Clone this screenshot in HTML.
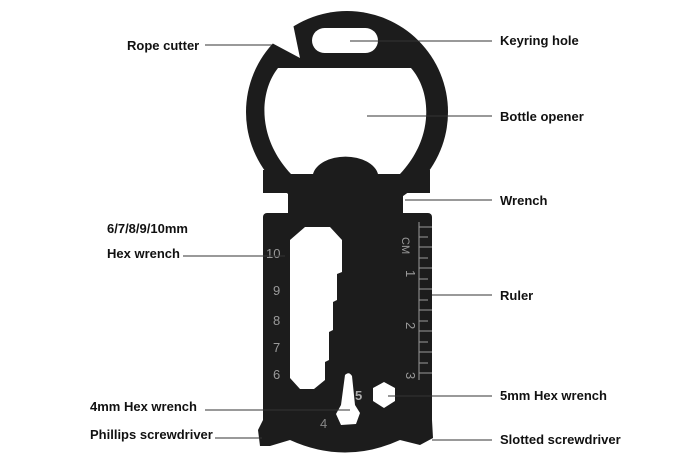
<!DOCTYPE html>
<html><head><meta charset="utf-8"><style>
html,body{margin:0;padding:0;background:#fff;}
svg{display:block}
text{font-family:"Liberation Sans",sans-serif;}
.l{font-size:13px;font-weight:bold;fill:#111}
</style></head><body>
<svg width="700" height="467" viewBox="0 0 700 467">
<defs>
<mask id="m">
<rect width="700" height="467" fill="#fff"/>
<path d="M278,68 L411,68 C432,92 434,138 400,174 L378,174 A33,21 0 0 0 313,174 L291,174 C257,138 259,92 278,68 Z" fill="#000"/>
<rect x="312" y="28" width="66" height="25" rx="12.5" fill="#000"/>
<path d="M270,42 L293,24 L300,58 Z" fill="#000"/>
<path d="M290,240 L305,227 L330,227 L342,240 L342,272 L337,274 L337,300 L333,302 L333,330 L329,332 L329,360 L325,362 L325,380 L314,389 L300,389 L290,378 Z" fill="#000"/>
<polygon points="384,382 395,388 395,401 384,408 373,401 373,388" fill="#000"/>
<path d="M345,375 Q349,371 352,376 L355,405 L360,413 L356,424 L341,425 L336,414 L341,405 Z" fill="#000"/>
</mask>
</defs>
<g mask="url(#m)" fill="#1c1c1c">
<circle cx="347" cy="112" r="101"/>
<rect x="263" y="170" width="167" height="23"/>
<rect x="288" y="190" width="115" height="30"/>
<rect x="263" y="213" width="169" height="190" rx="4"/>
<path d="M263,395 L263,420 L258,430 L260,446 L270,446 L290,440 Q345,465 400,440 L420,445 L433,438 L432,420 L432,395 Z"/>
</g>
<g stroke="#9a9a9a" stroke-width="1">
<line x1="419" y1="222" x2="419" y2="380"/>
</g>
<g fill="#9a9a9a" font-size="13">
<text x="402" y="237" transform="rotate(90 402 237)" font-size="11">CM</text>
<text x="396" y="272" transform="rotate(90 402 276)">1</text>
<text x="396" y="324" transform="rotate(90 402 328)">2</text>
<text x="396" y="374" transform="rotate(90 402 378)">3</text>
<text x="266" y="258">10</text>
<text x="273" y="295">9</text>
<text x="273" y="325">8</text>
<text x="273" y="352">7</text>
<text x="273" y="379">6</text>
<text x="355" y="400" font-weight="bold" fill="#aaa">5</text>
<text x="320" y="428" fill="#888">4</text>
</g>
<g stroke="#9a9a9a">
<line x1="419" y1="227" x2="432" y2="227"/><line x1="419" y1="237" x2="428" y2="237"/>
<line x1="419" y1="247" x2="432" y2="247"/><line x1="419" y1="258" x2="428" y2="258"/>
<line x1="419" y1="268" x2="432" y2="268"/><line x1="419" y1="279" x2="428" y2="279"/>
<line x1="419" y1="289" x2="432" y2="289"/><line x1="419" y1="300" x2="428" y2="300"/>
<line x1="419" y1="310" x2="432" y2="310"/><line x1="419" y1="321" x2="428" y2="321"/>
<line x1="419" y1="331" x2="432" y2="331"/><line x1="419" y1="342" x2="428" y2="342"/>
<line x1="419" y1="352" x2="432" y2="352"/><line x1="419" y1="363" x2="428" y2="363"/>
<line x1="419" y1="373" x2="432" y2="373"/>
</g>
<g stroke="#333" stroke-width="1">
<line x1="205" y1="45" x2="272" y2="45"/>
<line x1="350" y1="41" x2="492" y2="41"/>
<line x1="367" y1="116" x2="492" y2="116"/>
<line x1="405" y1="200" x2="492" y2="200"/>
<line x1="183" y1="256" x2="285" y2="256"/>
<line x1="432" y1="295" x2="492" y2="295"/>
<line x1="205" y1="410" x2="350" y2="410"/>
<line x1="388" y1="396" x2="492" y2="396"/>
<line x1="215" y1="438" x2="262" y2="438"/>
<line x1="432" y1="440" x2="492" y2="440"/>
</g>
<g>
<text class="l" x="127" y="50">Rope cutter</text>
<text class="l" x="500" y="45">Keyring hole</text>
<text class="l" x="500" y="121">Bottle opener</text>
<text class="l" x="500" y="205">Wrench</text>
<text class="l" x="107" y="233">6/7/8/9/10mm</text>
<text class="l" x="107" y="258">Hex wrench</text>
<text class="l" x="500" y="300">Ruler</text>
<text class="l" x="90" y="411">4mm Hex wrench</text>
<text class="l" x="500" y="400">5mm Hex wrench</text>
<text class="l" x="90" y="439">Phillips screwdriver</text>
<text class="l" x="500" y="444">Slotted screwdriver</text>
</g>
</svg>
</body></html>
